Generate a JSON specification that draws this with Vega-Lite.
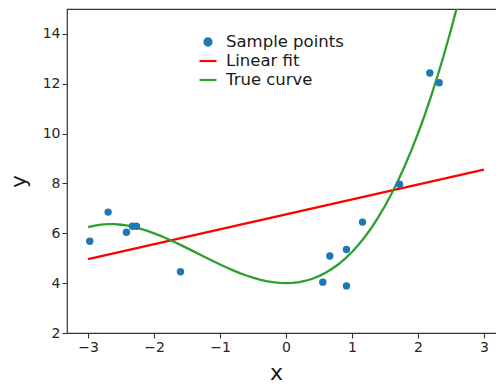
{
  "$schema": "https://vega.github.io/schema/vega-lite/v6.json",
  "autosize": {"type": "none"},
  "padding": {"left": 67, "top": 9, "right": 0, "bottom": 52},
  "width": 438,
  "height": 324,
  "config": {
    "font": "DejaVu Sans",
    "view": {"stroke": "#333333", "strokeWidth": 1.2},
    "axis": {
      "grid": false,
      "domain": false,
      "tickColor": "#333333",
      "tickSize": 5,
      "tickWidth": 1.1,
      "labelFont": "DejaVu Sans",
      "labelFontSize": 14,
      "labelColor": "#262626",
      "labelPadding": 2,
      "titleFont": "DejaVu Sans",
      "titleFontSize": 22,
      "titleFontWeight": "normal",
      "titleColor": "#1a1a1a"
    }
  },
  "data": {
    "values": [
      {"series": "Sample points", "x": -2.975, "y": 5.68},
      {"series": "Sample points", "x": -2.697, "y": 6.85},
      {"series": "Sample points", "x": -2.419, "y": 6.04},
      {"series": "Sample points", "x": -2.328, "y": 6.28},
      {"series": "Sample points", "x": -2.267, "y": 6.28},
      {"series": "Sample points", "x": -1.6, "y": 4.46},
      {"series": "Sample points", "x": 0.558, "y": 4.04},
      {"series": "Sample points", "x": 0.664, "y": 5.09},
      {"series": "Sample points", "x": 0.917, "y": 5.35},
      {"series": "Sample points", "x": 0.917, "y": 3.89},
      {"series": "Sample points", "x": 1.16, "y": 6.45},
      {"series": "Sample points", "x": 1.721, "y": 7.97},
      {"series": "Sample points", "x": 2.18, "y": 12.43},
      {"series": "Sample points", "x": 2.322, "y": 12.04},
      {"series": "Linear fit", "x": -3.0, "y": 4.96},
      {"series": "Linear fit", "x": 3.0, "y": 8.56},
      {"series": "True curve", "x": -3.0, "y": 6.25},
      {"series": "True curve", "x": -2.9, "y": 6.313},
      {"series": "True curve", "x": -2.8, "y": 6.352},
      {"series": "True curve", "x": -2.7, "y": 6.369},
      {"series": "True curve", "x": -2.6, "y": 6.366},
      {"series": "True curve", "x": -2.5, "y": 6.344},
      {"series": "True curve", "x": -2.4, "y": 6.304},
      {"series": "True curve", "x": -2.3, "y": 6.248},
      {"series": "True curve", "x": -2.2, "y": 6.178},
      {"series": "True curve", "x": -2.1, "y": 6.095},
      {"series": "True curve", "x": -2.0, "y": 6.0},
      {"series": "True curve", "x": -1.9, "y": 5.895},
      {"series": "True curve", "x": -1.8, "y": 5.782},
      {"series": "True curve", "x": -1.7, "y": 5.662},
      {"series": "True curve", "x": -1.6, "y": 5.536},
      {"series": "True curve", "x": -1.5, "y": 5.406},
      {"series": "True curve", "x": -1.4, "y": 5.274},
      {"series": "True curve", "x": -1.3, "y": 5.141},
      {"series": "True curve", "x": -1.2, "y": 5.008},
      {"series": "True curve", "x": -1.1, "y": 4.877},
      {"series": "True curve", "x": -1.0, "y": 4.75},
      {"series": "True curve", "x": -0.9, "y": 4.628},
      {"series": "True curve", "x": -0.8, "y": 4.512},
      {"series": "True curve", "x": -0.7, "y": 4.404},
      {"series": "True curve", "x": -0.6, "y": 4.306},
      {"series": "True curve", "x": -0.5, "y": 4.219},
      {"series": "True curve", "x": -0.4, "y": 4.144},
      {"series": "True curve", "x": -0.3, "y": 4.083},
      {"series": "True curve", "x": -0.2, "y": 4.038},
      {"series": "True curve", "x": -0.1, "y": 4.01},
      {"series": "True curve", "x": 0.0, "y": 4.0},
      {"series": "True curve", "x": 0.1, "y": 4.01},
      {"series": "True curve", "x": 0.2, "y": 4.042},
      {"series": "True curve", "x": 0.3, "y": 4.097},
      {"series": "True curve", "x": 0.4, "y": 4.176},
      {"series": "True curve", "x": 0.5, "y": 4.281},
      {"series": "True curve", "x": 0.6, "y": 4.414},
      {"series": "True curve", "x": 0.7, "y": 4.576},
      {"series": "True curve", "x": 0.8, "y": 4.768},
      {"series": "True curve", "x": 0.9, "y": 4.992},
      {"series": "True curve", "x": 1.0, "y": 5.25},
      {"series": "True curve", "x": 1.1, "y": 5.543},
      {"series": "True curve", "x": 1.2, "y": 5.872},
      {"series": "True curve", "x": 1.3, "y": 6.239},
      {"series": "True curve", "x": 1.4, "y": 6.646},
      {"series": "True curve", "x": 1.5, "y": 7.094},
      {"series": "True curve", "x": 1.6, "y": 7.584},
      {"series": "True curve", "x": 1.7, "y": 8.118},
      {"series": "True curve", "x": 1.8, "y": 8.698},
      {"series": "True curve", "x": 1.9, "y": 9.325},
      {"series": "True curve", "x": 2.0, "y": 10.0},
      {"series": "True curve", "x": 2.1, "y": 10.725},
      {"series": "True curve", "x": 2.2, "y": 11.502},
      {"series": "True curve", "x": 2.3, "y": 12.332},
      {"series": "True curve", "x": 2.4, "y": 13.216},
      {"series": "True curve", "x": 2.5, "y": 14.156},
      {"series": "True curve", "x": 2.6, "y": 15.154},
      {"series": "True curve", "x": 2.7, "y": 16.211}
    ]
  },
  "encoding": {
    "x": {
      "field": "x", "type": "quantitative",
      "scale": {"domain": [-3.32, 3.32], "nice": false, "zero": false},
      "axis": {"values": [-3, -2, -1, 0, 1, 2, 3], "title": "x", "titleX": 209, "titleY": 46, "titleBaseline": "alphabetic", "titleAnchor": null}
    },
    "y": {
      "field": "y", "type": "quantitative",
      "scale": {"domain": [2, 15], "nice": false, "zero": false},
      "axis": {"values": [2, 4, 6, 8, 10, 12, 14], "title": "y", "titleX": -42, "titleY": 172, "titleBaseline": "alphabetic", "titleAlign": "center", "titleAngle": -90}
    },
    "color": {
      "field": "series", "type": "nominal",
      "scale": {"domain": ["Sample points", "Linear fit", "True curve"], "range": ["#1f77b4", "#ff0000", "#2ca02c"]},
      "legend": {
        "title": null,
        "orient": "none",
        "legendX": 131,
        "legendY": 23,
        "padding": 0,
        "labelFont": "DejaVu Sans",
        "labelFontSize": 16.5,
        "labelColor": "#1a1a1a",
        "labelOffset": 8,
        "rowPadding": 0,
        "symbolSize": 289,
        "encode": {
          "symbols": {
            "update": {
              "shape": {"signal": "datum.value === 'Sample points' ? 'circle' : 'stroke'"},
              "size": {"signal": "datum.value === 'Sample points' ? 50 : 289"},
              "fill": {"signal": "datum.value === 'Sample points' ? '#1f77b4' : 'transparent'"},
              "stroke": {"signal": "datum.value === 'Linear fit' ? '#ff0000' : (datum.value === 'True curve' ? '#2ca02c' : 'transparent')"},
              "strokeWidth": {"value": 2.2},
              "opacity": {"value": 1}
            }
          }
        }
      }
    }
  },
  "layer": [
    {
      "transform": [{"filter": "datum.series !== 'Sample points'"}],
      "mark": {"type": "line", "strokeWidth": 2.3, "clip": true}
    },
    {
      "transform": [{"filter": "datum.series === 'Sample points'"}],
      "mark": {"type": "circle", "size": 55, "opacity": 1}
    }
  ]
}
